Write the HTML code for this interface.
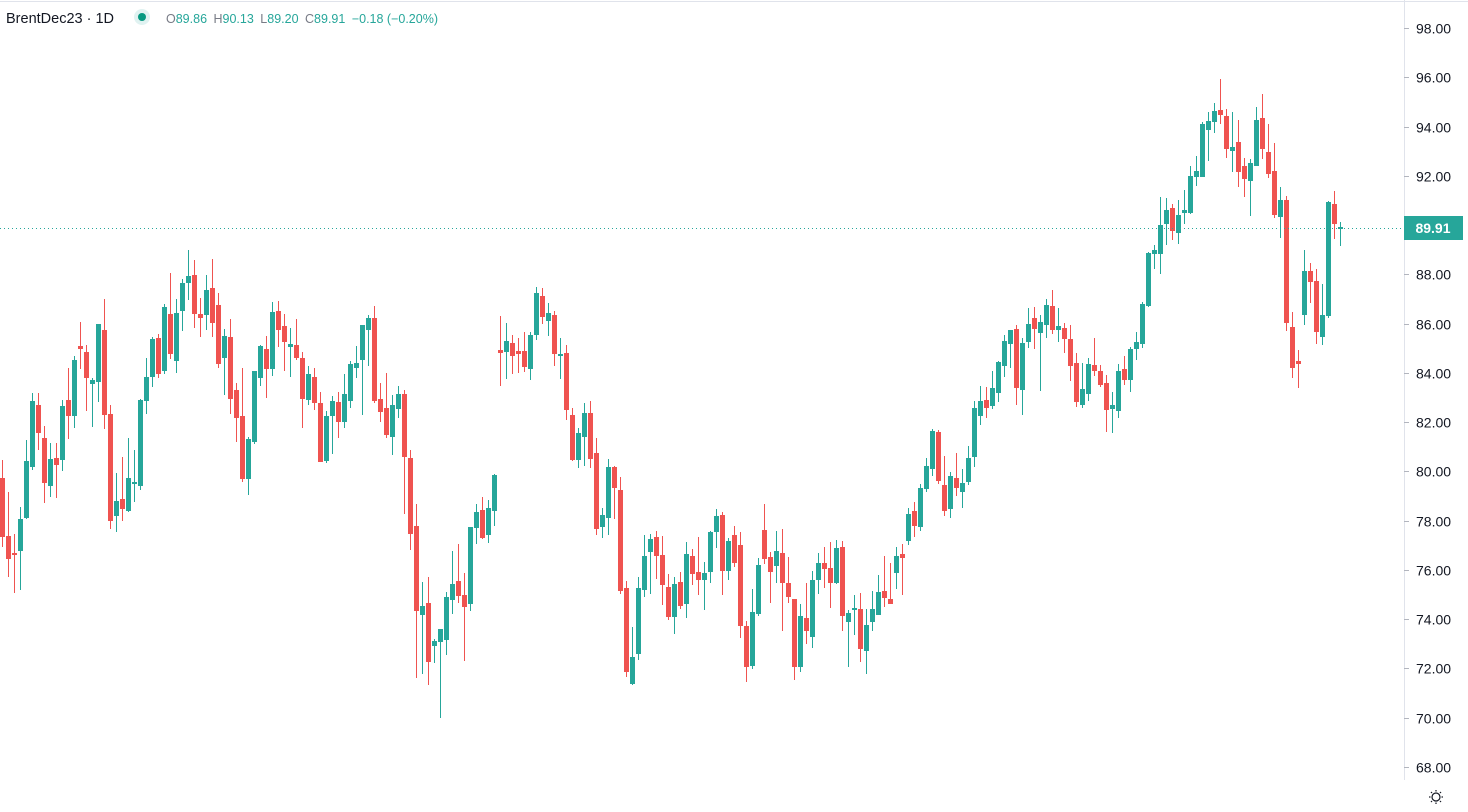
<!DOCTYPE html>
<html><head><meta charset="utf-8"><style>
html,body{margin:0;padding:0;background:#fff;}
body{width:1468px;height:812px;overflow:hidden;position:relative;font-family:"Liberation Sans",sans-serif;}
svg{position:absolute;left:0;top:0;}
</style></head><body>
<svg id="c" width="1468" height="812" xmlns="http://www.w3.org/2000/svg" shape-rendering="crispEdges">
<line x1="0" y1="1.5" x2="1468" y2="1.5" stroke="#e0e3eb" stroke-width="1"/>
<line x1="1404.5" y1="0" x2="1404.5" y2="780" stroke="#e0e3eb" stroke-width="1"/>
<g id="ticks" font-family="Liberation Sans, sans-serif" font-size="14" fill="#131722"></g>
<g id="candles"></g>
<line x1="0" y1="228.5" x2="1404" y2="228.5" stroke="#26a69a" stroke-width="1" stroke-dasharray="1,3"/>
<rect x="1404" y="216" width="59" height="24" fill="#26a69a"/>
<text x="1433" y="233" font-family="Liberation Sans, sans-serif" font-size="14" font-weight="bold" fill="#fff" text-anchor="middle">89.91</text>
<text x="6" y="23" font-family="Liberation Sans, sans-serif" font-size="14.5" fill="#131722">BrentDec23 · 1D</text>
<circle cx="142" cy="17" r="8" fill="#e0f2f1" shape-rendering="auto"/>
<circle cx="142" cy="17" r="4" fill="#089981" shape-rendering="auto"/>
<text x="166" y="23" font-family="Liberation Sans, sans-serif" font-size="12.5" fill="#26a69a"><tspan fill="#787b86">O</tspan>89.86 <tspan fill="#787b86" dx="3">H</tspan>90.13 <tspan fill="#787b86" dx="3">L</tspan>89.20 <tspan fill="#787b86" dx="3">C</tspan>89.91 <tspan dx="3">−0.18 (−0.20%)</tspan></text>
<g transform="translate(1436,797)" stroke="#131722" stroke-width="1.2" fill="none" shape-rendering="auto">
<circle r="4"/><line x1="0" y1="-7" x2="0" y2="-5.5"/><line x1="0" y1="7" x2="0" y2="5.5"/><line x1="-7" y1="0" x2="-5.5" y2="0"/><line x1="7" y1="0" x2="5.5" y2="0"/>
<line x1="-5" y1="-5" x2="-4" y2="-4"/><line x1="5" y1="5" x2="4" y2="4"/><line x1="-5" y1="5" x2="-4" y2="4"/><line x1="5" y1="-5" x2="4" y2="-4"/>
</g>
</svg>
<script>
var D=[
"r,460,478,537,547","r,492,536,559,577","r,534,553,555,593","g,507,519,551,590","g,440,461,518,519","g,393,401,467,470","r,393,405,433,450","r,426,438,483,503","g,443,459,486,497","r,443,458,465,498",
"g,400,406,460,471","r,368,400,416,439","g,356,360,416,428","r,322,346,349,369","r,345,352,378,411","g,378,380,384,427","g,324,324,382,402","r,299,330,415,429","r,405,414,521,529","g,473,501,516,532",
"r,457,499,509,521","g,438,478,511,512","g,450,482,483,502","g,399,400,486,490","g,358,377,401,414","g,337,339,377,387","r,334,338,374,378","g,304,307,371,374","r,273,314,354,359","g,299,313,361,373",
"g,279,283,311,331","g,250,276,283,300","r,260,275,314,328","r,298,314,318,337","g,275,290,315,330","r,259,288,323,337","r,293,305,364,368","g,329,336,358,395","r,319,337,399,414","r,383,390,418,442",
"r,368,416,479,482","g,437,439,479,495","g,371,371,442,444","g,345,346,378,386","r,336,349,369,398","g,302,312,369,376","r,301,311,330,347","r,314,326,342,371","g,328,344,347,377","r,319,345,358,360",
"r,352,358,399,428","g,366,374,400,405","r,368,377,403,410","r,392,403,462,462","g,411,416,461,463","g,396,401,416,454","r,392,402,422,438","g,374,394,422,428","g,361,364,401,408","g,346,363,368,378",
"g,325,325,360,415","g,315,318,330,366","r,306,318,401,403","r,383,399,412,422","r,373,408,435,438","g,395,405,437,455","g,386,394,409,418","r,390,394,457,514","r,450,458,534,550","r,504,526,611,678",
"g,582,606,615,674","r,577,603,662,685","g,639,641,646,663","g,629,629,642,718","g,592,597,640,655","g,551,584,600,614","r,544,581,596,603","r,573,595,607,661","g,527,527,604,611","g,504,512,528,544",
"r,497,510,538,539","g,500,508,535,543","g,474,475,511,526","r,316,350,353,386","g,323,341,352,379","r,335,343,356,374","r,338,351,354,373","r,332,351,367,372","g,332,335,369,380","g,287,293,335,340",
"r,288,296,317,324","g,303,313,321,336","r,311,315,354,366","g,338,354,356,379","r,345,353,410,420","r,408,415,460,461","g,428,433,460,468","g,403,413,437,466","r,401,413,459,468","r,438,453,529,535",
"g,508,515,527,538","g,459,467,518,535","r,466,467,488,519","r,477,490,591,594","r,581,588,672,677","g,627,657,684,685","g,577,588,654,660","g,535,556,590,597","g,534,539,552,594","r,531,537,556,579",
"r,536,555,585,605","r,574,587,617,620","g,577,584,617,634","r,572,582,606,609","g,542,554,604,618","r,549,556,574,585","r,537,572,580,595","g,562,573,580,610","g,531,532,572,583","g,509,516,532,548",
"r,512,515,571,595","g,538,541,571,580","r,526,535,563,567","r,532,545,626,638","r,621,626,667,682","g,589,612,666,669","g,558,565,614,616","r,504,530,559,564","r,552,557,572,603","g,531,551,566,583",
"r,529,553,583,631","r,557,583,597,603","r,599,599,667,680","g,604,616,667,672","r,583,618,631,644","g,571,580,637,648","g,553,563,580,594","r,547,563,569,588","r,542,568,583,608","g,540,548,583,584",
"r,541,547,616,631","g,610,613,622,667","g,595,608,609,635","r,593,609,649,662","g,609,625,651,674","g,591,609,622,631","g,575,592,615,615","r,556,591,598,607","r,563,599,604,604","g,547,556,573,589",
"r,544,554,558,595","g,508,514,541,545","r,502,511,526,537","g,484,488,527,531","g,458,466,489,492","g,429,431,469,476","r,430,432,481,484","r,456,485,511,516","g,472,476,509,518","r,453,478,488,496",
"g,469,483,492,508","g,446,458,482,485","g,401,408,457,467","g,386,401,416,425","r,387,400,408,418","g,371,388,406,409","g,361,362,393,402","g,335,341,366,377","g,330,330,344,368","r,325,329,388,405",
"g,338,343,390,415","g,308,324,342,348","r,307,318,329,349","g,315,322,333,391","g,299,305,325,338","r,290,306,330,334","g,308,326,330,342","r,323,328,339,353","r,325,339,366,381","r,353,363,402,407",
"g,363,389,405,408","g,358,364,394,401","r,338,365,371,376","r,365,371,385,387","r,375,383,410,432","g,392,405,409,433","g,364,371,411,418","r,356,369,380,385","g,347,349,380,392","g,332,342,349,360",
"g,302,304,344,348","g,252,253,306,307","g,245,250,254,269","g,197,225,254,274","g,198,210,224,245","r,204,208,231,240","g,200,215,233,244","g,190,210,213,224","g,166,176,213,214","g,156,171,177,186",
"g,122,124,177,177","g,112,121,130,161","g,103,111,122,133","r,79,110,115,124","r,109,116,149,158","g,112,147,151,172","r,120,142,172,187","r,158,166,179,197","g,159,163,181,216","g,107,120,166,166",
"r,94,118,149,159","r,124,152,174,178","r,143,171,215,218","g,187,200,217,238","r,196,200,323,331","r,312,327,368,378","r,350,361,364,388","g,250,271,315,325","r,263,271,282,303","r,269,281,332,344",
"g,284,315,337,345","g,201,202,316,318","r,191,204,224,239","g,222,227,228,246"
];
var s='';
for(var i=0;i<D.length;i++){
 var p=D[i].split(','),c=p[0]=='g'?'#26a69a':'#ef5350';
 var h=+p[1],t=+p[2],b=+p[3],l=+p[4];
 var x=Math.round(2.3+6*i);
 if(b-t<2){b=t+2;}
 s+='<rect x="'+x+'" y="'+h+'" width="1" height="'+(l-h)+'" fill="'+c+'"/>';
 s+='<rect x="'+(x-2)+'" y="'+t+'" width="5" height="'+(b-t)+'" fill="'+c+'"/>';
}
document.getElementById('candles').innerHTML=s;
var tk='';
for(var v=98;v>=68;v-=2){
 var y=Math.round(28+(98-v)*24.63)+0.5;
 tk+='<line x1="1404" y1="'+y+'" x2="1409" y2="'+y+'" stroke="#b2b5be" stroke-width="1"/>';
 tk+='<text x="1416" y="'+(y+5)+'" shape-rendering="auto">'+v.toFixed(2)+'</text>';
}
document.getElementById('ticks').innerHTML=tk;
</script>
</body></html>
